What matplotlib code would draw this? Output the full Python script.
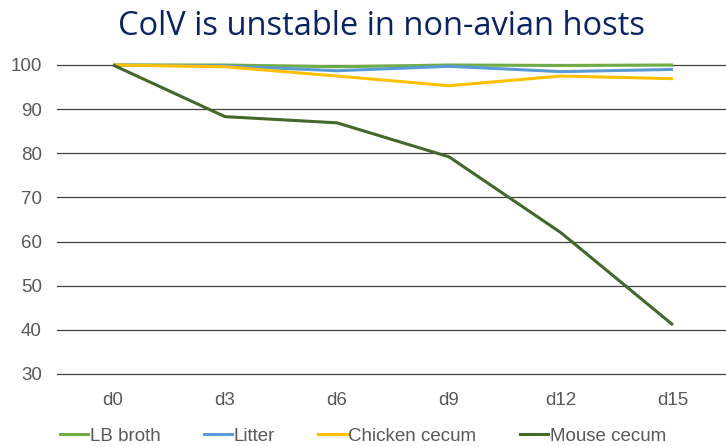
import matplotlib
matplotlib.use("Agg")
import matplotlib.pyplot as plt
from matplotlib.lines import Line2D

categories = ["d0", "d3", "d6", "d9", "d12", "d15"]
lb_broth = [100, 100, 99.6, 100, 99.9, 100]
litter = [100, 99.8, 98.7, 99.7, 98.5, 99.0]
chicken_cecum = [100, 99.6, 97.5, 95.3, 97.5, 96.9]
mouse_cecum = [100, 88.3, 86.9, 79.2, 62.0, 41.1]
series_names = ["LB broth", "Litter", "Chicken cecum", "Mouse cecum"]
yticks = [30, 40, 50, 60, 70, 80, 90, 100]

colors = ["#70AD47", "#5B9BD5", "#FFC000", "#43682B"]
font = "Liberation Sans"
fs = 13.5

fig = plt.figure(figsize=(7.26, 4.46), dpi=100)
ax = fig.add_axes([57/726, 1-374/446, 672/726, (374-65)/446])

x = list(range(len(categories)))
for vals, name, c in zip([lb_broth, litter, chicken_cecum, mouse_cecum], series_names, colors):
    ax.plot(x, vals, color=c, lw=2.2, label=name, clip_on=False, solid_capstyle="butt", zorder=3)

ax.set_xlim(-0.5, 5.5)
ax.set_ylim(30, 100)
ax.set_yticks(yticks)
ax.set_xticks(x)
ax.set_xticklabels(categories)
ax.grid(axis="y", color="#404040", lw=0.9, zorder=1)
for gl in ax.get_ygridlines():
    gl.set_clip_on(False)
for s in ax.spines.values():
    s.set_visible(False)
ax.tick_params(axis="both", length=0, labelsize=fs, labelcolor="#595959")
ax.tick_params(axis="y", pad=11)
ax.tick_params(axis="x", pad=13)
for lab in ax.get_xticklabels() + ax.get_yticklabels():
    lab.set_fontfamily(font)

fig.text(381/726, 1-35/446, "ColV is unstable in non-avian hosts", ha="center", va="baseline",
         fontsize=23.5, color="#0A2463", fontfamily="Open Sans")

handles = [Line2D([0], [0], color=c, lw=2.2) for c in colors]
leg = fig.legend(handles, series_names, loc="center left", bbox_to_anchor=(60/726, 1-436/446), ncol=4,
                 frameon=False, handlelength=1.5, handletextpad=0.1, columnspacing=2.3,
                 borderpad=0, borderaxespad=0,
                 prop={"family": font, "size": fs})
for t in leg.get_texts():
    t.set_color("#595959")

fig.savefig("out.png", dpi=100)
